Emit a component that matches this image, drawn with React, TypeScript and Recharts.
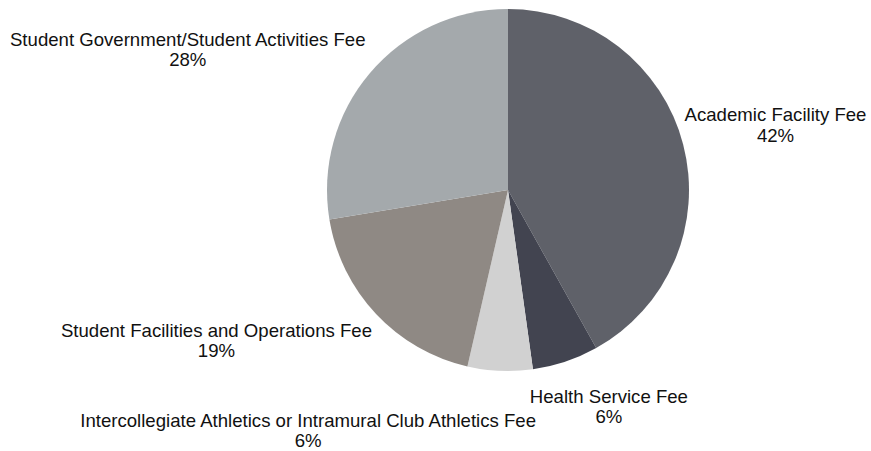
import React from 'react';
import { PieChart, Pie, Cell } from 'recharts';

const categories = [
  'Academic Facility Fee',
  'Health Service Fee',
  'Intercollegiate Athletics or Intramural Club Athletics Fee',
  'Student Facilities and Operations Fee',
  'Student Government/Student Activities Fee'
];
const shares = [41.9, 5.9, 5.8, 18.8, 27.6];
const colors = ['#5f6169', '#424450', '#d1d1d1', '#8f8984', '#a4a9ac'];
// label nudges from the point just outside each slice's middle
const labelShift = [[73, -18], [37, 22], [-191, 36], [-145, 9], [-167, -14]];

const data = categories.map((name, i) => ({ name, value: shares[i] }));
const RAD = Math.PI / 180;

function renderLabel(props: any) {
  const { cx, cy, midAngle, outerRadius, percent, index, name } = props;
  const r = outerRadius + 20;
  const x = cx + r * Math.cos(-midAngle * RAD) + labelShift[index][0];
  const y = cy + r * Math.sin(-midAngle * RAD) + labelShift[index][1];
  return <text x={x} y={y} textAnchor="middle" fill="#111" fontSize={18.6} fontFamily="'Liberation Sans', Arial, sans-serif">
      <tspan x={x} y={y}>{name}</tspan>
      <tspan x={x} y={y + 20.5}>{Math.round(percent * 100)}%</tspan>
    </text>;
}

export default function App() {
  return <div style={{ position: 'absolute', left: 0, top: 0 }}>
      <PieChart width={871} height={451} margin={{ top: 0, right: 0, bottom: 0, left: 0 }}>
        <Pie data={data} dataKey="value" nameKey="name" cx={508} cy={190} outerRadius={181} startAngle={90} endAngle={-270} stroke="none" label={renderLabel} labelLine={false} isAnimationActive={false}>
          {data.map((d, i) => <Cell key={d.name} fill={colors[i]} />)}
        </Pie>
      </PieChart>
    </div>;
}
